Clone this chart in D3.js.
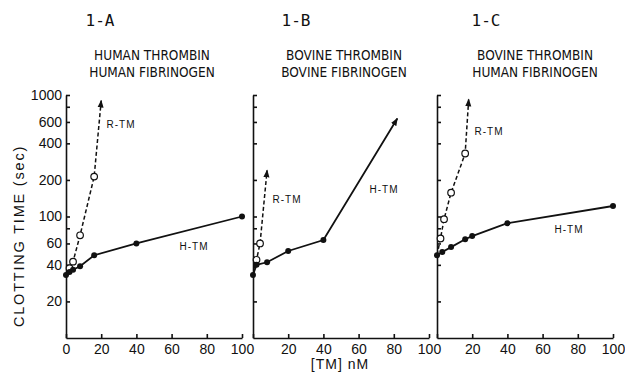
<!DOCTYPE html>
<html lang="en">
<head>
<meta charset="UTF-8">
<title>Clotting time vs TM</title>
<script src="https://d3js.org/d3.v7.min.js"></script>
<style>
  body { margin: 0; background: #fff; }
  text { font-family: "Liberation Sans", Arial, sans-serif; fill: #111; }
</style>
</head>
<body>
<svg width="625" height="375" id="canvas"></svg>
<script>
// panel headings
const panelIds = ["1-A", "1-B", "1-C"];
const panelTitles = [
  ["HUMAN THROMBIN", "HUMAN FIBRINOGEN"],
  ["BOVINE THROMBIN", "BOVINE FIBRINOGEN"],
  ["BOVINE THROMBIN", "HUMAN FIBRINOGEN"]
];

// ticks
const yTicks = [20, 40, 60, 80, 100, 200, 400, 600, 800, 1000];
const yLabelled = [20, 40, 60, 100, 200, 400, 600, 1000];
const xTicks = [0, 20, 40, 60, 80, 100];

// [TM nM, clotting time sec]  -- H-TM (solid, filled)
const htmA = [[0, 33], [2, 35], [4, 36.5], [8, 39], [16, 48], [40, 60], [100, 100]];
const htmB = [[0, 33], [2, 40], [8, 42], [20, 52], [40, 64]];
const htmC = [[0, 48], [3, 51], [8, 56], [16, 65], [20, 69], [40, 88], [100, 122]];
// R-TM (dashed, open)
const rtmA = [[0, 33], [2, 37.5], [4, 42.5], [8, 70], [16, 213]];
const rtmB = [[0, 33], [2, 44], [4, 60]];
const rtmC = [[0, 48], [2, 66], [4, 95], [8, 157], [16, 330]];
// where the arrows point (off scale)
const htmB_arrow = [82, 640];
const rtmA_arrow = [20, 900];
const rtmB_arrow = [8, 240];
const rtmC_arrow = [18, 920];

const panels = [
  { h: htmA, r: rtmA, hArrow: null, rArrow: rtmA_arrow, rLab: [121, 124], hLab: [194, 246] },
  { h: htmB, r: rtmB, hArrow: htmB_arrow, rArrow: rtmB_arrow, rLab: [287, 199], hLab: [384, 189] },
  { h: htmC, r: rtmC, hArrow: null, rArrow: rtmC_arrow, rLab: [489, 131], hLab: [569, 229] }
];

const svg = d3.select("#canvas");
const left0 = [66, 253, 437];
const pw = 176;

const y = d3.scaleLog().domain([10, 1000]).range([338, 95]);

svg.append("defs").append("marker")
  .attr("id", "arrow")
  .attr("viewBox", "0 -4 9 8")
  .attr("refX", 8).attr("refY", 0)
  .attr("markerUnits", "userSpaceOnUse")
  .attr("markerWidth", 8).attr("markerHeight", 7)
  .attr("orient", "auto")
  .append("path").attr("d", "M0,-3.5L9,0L0,3.5Z").attr("fill", "#111");

const line = (x) => d3.line().x(d => x(d[0])).y(d => y(d[1]));

panels.forEach((p, i) => {
  const x = d3.scaleLinear().domain([0, 100]).range([left0[i], left0[i] + pw]);
  const g = svg.append("g");

  // y axis, ticks point inwards, numbers only on the first panel
  const yAxis = d3.axisLeft(y)
    .tickValues(yTicks)
    .tickSizeInner(-4).tickSizeOuter(0).tickPadding(4)
    .tickFormat(d => (i === 0 && yLabelled.includes(d)) ? d : "");
  g.append("g").attr("transform", "translate(" + left0[i] + ",0)")
    .call(yAxis)
    .call(a => a.selectAll("text").style("font-size", "14px").style("font-family", "Liberation Sans, Arial"))
    .call(a => a.selectAll("line,path").attr("stroke", "#111").attr("stroke-width", 1.6));

  // x axis
  const xAxis = d3.axisBottom(x)
    .tickValues(xTicks)
    .tickSizeInner(-4).tickSizeOuter(0).tickPadding(6)
    .tickFormat(d => (i > 0 && d === 0) ? "" : d);
  g.append("g").attr("transform", "translate(0," + y(10) + ")")
    .call(xAxis)
    .call(a => a.selectAll("text").style("font-size", "14px").style("font-family", "Liberation Sans, Arial"))
    .call(a => a.selectAll("line,path").attr("stroke", "#111").attr("stroke-width", 1.6));

  // R-TM dashed
  const rPts = p.r.concat([p.rArrow]);
  g.append("path").datum(rPts)
    .attr("d", line(x)).attr("fill", "none")
    .attr("stroke", "#111").attr("stroke-width", 1.5)
    .attr("stroke-dasharray", "4,2.5")
    .attr("marker-end", "url(#arrow)");
  g.selectAll(".open").data(p.r.slice(1)).join("circle")
    .attr("class", "open")
    .attr("cx", d => x(d[0])).attr("cy", d => y(d[1])).attr("r", 3.3)
    .attr("fill", "#fff").attr("stroke", "#111").attr("stroke-width", 1.2);

  // H-TM solid
  const hPts = p.hArrow ? p.h.concat([p.hArrow]) : p.h;
  g.append("path").datum(hPts)
    .attr("d", line(x)).attr("fill", "none")
    .attr("stroke", "#111").attr("stroke-width", 1.8)
    .attr("marker-end", p.hArrow ? "url(#arrow)" : null);
  g.selectAll(".fill").data(p.h).join("circle")
    .attr("class", "fill")
    .attr("cx", d => x(d[0])).attr("cy", d => y(d[1])).attr("r", 3)
    .attr("fill", "#111");

  // series labels
  g.append("text").attr("x", p.rLab[0]).attr("y", p.rLab[1] + 4)
    .attr("text-anchor", "middle").style("font-size", "10px").style("letter-spacing", "1px")
    .text("R-TM");
  g.append("text").attr("x", p.hLab[0]).attr("y", p.hLab[1] + 4)
    .attr("text-anchor", "middle").style("font-size", "10px").style("letter-spacing", "1px")
    .text("H-TM");

  // headings
  const cx = [100, 296, 486][i];
  g.append("text").attr("x", cx).attr("y", 26).attr("text-anchor", "middle")
    .style("font-family", "DejaVu Sans Mono, monospace").style("font-size", "16px")
    .text(panelIds[i]);
  const tx = [152, 344, 535][i];
  panelTitles[i].forEach((t, k) => {
    g.append("text").attr("x", tx).attr("y", 60 + k * 17).attr("text-anchor", "middle")
      .style("font-family", "DejaVu Sans, sans-serif").style("font-stretch", "condensed")
      .style("font-size", "13.5px")
      .text(t);
  });
});

// axis titles
svg.append("text")
  .attr("transform", "translate(24,236) rotate(-90)")
  .attr("text-anchor", "middle")
  .style("font-size", "14.5px").style("letter-spacing", "1.8px")
  .text("CLOTTING TIME (sec)");
svg.append("text")
  .attr("x", 340).attr("y", 369).attr("text-anchor", "middle")
  .style("font-size", "14px").style("letter-spacing", "1px")
  .text("[TM] nM");
</script>
</body>
</html>
